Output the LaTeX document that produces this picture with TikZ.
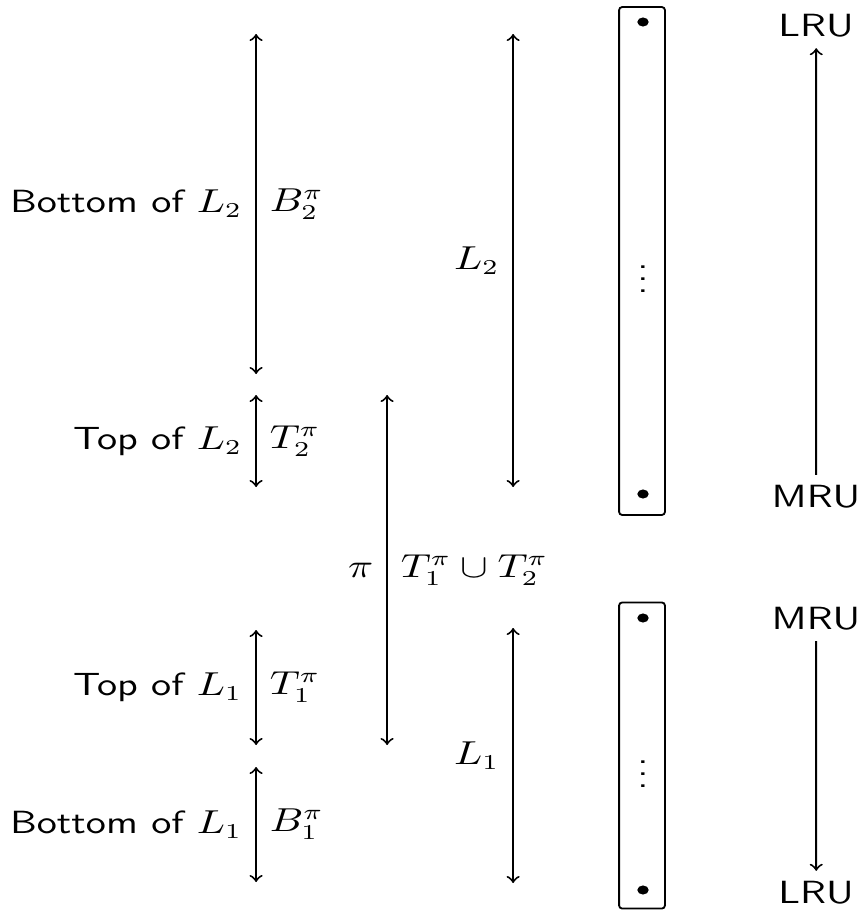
\documentclass[tikz,border=0pt]{standalone}
\begin{document}
\begin{tikzpicture}[
    xscale=1.25, x=0.264pt, y=-0.33pt,
    every node/.style={transform shape},
    font=\fontsize{10.6}{13}\selectfont\sffamily,
    span/.style={<->, line width=0.65pt},
    oneway/.style={->, line width=0.65pt},
    stack/.style={draw, line width=0.6pt, rounded corners=1pt, inner sep=0pt, minimum width=12.1pt},
    entry/.style={circle, fill=black, inner sep=0pt, minimum size=3pt},
  ]
  \useasboundingbox (0,0) rectangle (859,911);

  % left column: partition of each list into top and bottom parts
  \coordinate (b2a) at (256,34);  \coordinate (b2b) at (256,374);
  \coordinate (t2a) at (256,395); \coordinate (t2b) at (256,487);
  \coordinate (t1a) at (256,630); \coordinate (t1b) at (256,745);
  \coordinate (b1a) at (256,767); \coordinate (b1b) at (256,882);

  \draw[span] (b2b) -- node[left]{Bottom of $L_2$} node[right]{$B_2^\pi$} (b2a);
  \draw[span] (t2b) -- node[left]{Top of $L_2$} node[right]{$T_2^\pi$} (t2a);
  \draw[span] (t1b) -- node[left]{Top of $L_1$} node[right]{$T_1^\pi$} (t1a);
  \draw[span] (b1b) -- node[left]{Bottom of $L_1$} node[right]{$B_1^\pi$} (b1a);

  % the combined top parts
  \coordinate (pia) at (387,395); \coordinate (pib) at (387,745);
  \draw[span] (pib) -- node[left]{$\pi$} node[right]{$T_1^\pi \cup T_2^\pi$} (pia);

  % the two lists
  \coordinate (l2a) at (513,34);  \coordinate (l2b) at (513,487);
  \coordinate (l1a) at (513,628); \coordinate (l1b) at (513,883);
  \draw[span] (l2b) -- node[left]{$L_2$} (l2a);
  \draw[span] (l1b) -- node[left]{$L_1$} (l1a);

  % stacks
  \node[stack, minimum height=167.6pt] (boxTop) at (642,261) {};
  \node[stack, minimum height=101pt] (boxBot) at (642,755.5) {};
  \node[entry] (eTa) at (643,22) {};
  \node[entry] (eTb) at (643,494) {};
  \node (vT) at (643,270) {$\vdots$};
  \node[entry] (eBa) at (643,618) {};
  \node[entry] (eBb) at (643,890) {};
  \node (vB) at (643,765) {$\vdots$};

  % recency order
  \node (lruT) at (816,26) {LRU};
  \node (mruT) at (816,497) {MRU};
  \node (mruB) at (816,619) {MRU};
  \node (lruB) at (816,893) {LRU};
  \draw[oneway] (mruT) -- (lruT);
  \draw[oneway] (mruB) -- (lruB);
\end{tikzpicture}
\end{document}
